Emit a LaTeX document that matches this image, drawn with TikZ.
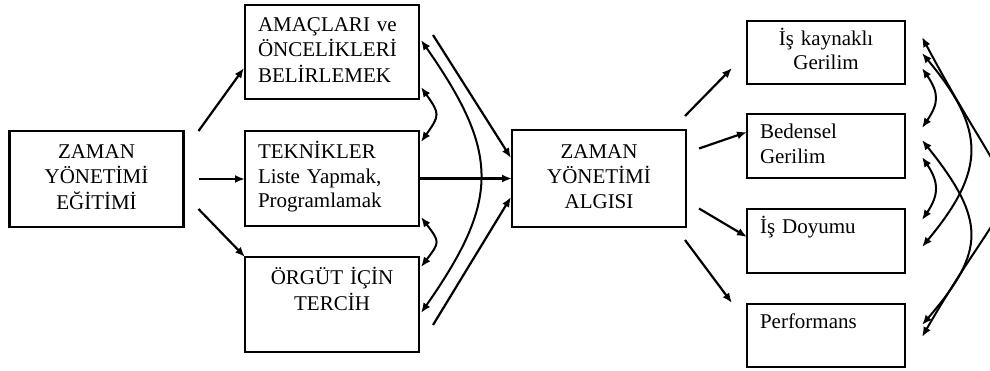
\documentclass[tikz,border=0pt]{standalone}
\usepackage{fontspec}
\setmainfont{Liberation Serif}
\usetikzlibrary{calc,arrows.meta}
\tikzset{
  box/.style={draw, line width=2.8pt, outer sep=0pt, inner xsep=13pt, inner ysep=0pt,
    font=\fontsize{21}{24.5}\selectfont},
  boxL/.style={box, minimum width=174pt, text width=148pt},
  boxR/.style={box, minimum width=158pt, text width=132pt},
  arr/.style={line width=2.2pt, -{Latex[length=10pt,width=8pt]}},
  dbl/.style={line width=2pt, {Latex[length=10pt,width=8pt]}-{Latex[length=10pt,width=8pt]}}
}
\begin{document}
\begin{tikzpicture}[x=1pt,y=-1pt]
\clip (0,0) rectangle (990,370);
\fill[white] (0,0) rectangle (990,370);
% nodes
\node[boxL, minimum width=173pt, minimum height=96pt, align=center] (zy) at (96.5,179) {\strut ZAMAN\\\strut YÖNETİMİ\\\strut EĞİTİMİ};
\node[boxL, minimum height=94pt, align=left] (amac) at (332,52) {\strut AMAÇLARI ve\\\strut ÖNCELİKLERİ\\\strut BELİRLEMEK};
\node[boxL, minimum height=95pt, align=left] (tek) at (332,178.5) {\strut TEKNİKLER\\\strut Liste Yapmak,\\\strut Programlamak};
\node[boxL, minimum height=95pt, align=center] (org) at (332,304.5) {\strut ÖRGÜT İÇİN\\\strut TERCİH\\\strut};
\node[boxL, minimum height=97pt, align=center] (alg) at (599,178.5) {\strut ZAMAN\\\strut YÖNETİMİ\\\strut ALGISI};
\node[boxR, minimum height=63pt, align=center] (isk) at (826,52.5) {\strut İş kaynaklı\\\strut Gerilim};
\node[boxR, minimum height=64pt, align=left] (bed) at (826,146) {\strut Bedensel\\\strut Gerilim};
\node[boxR, minimum height=64pt, align=left] (doy) at (826,241) {\strut İş Doyumu\\\strut};
\node[boxR, minimum height=63pt, align=left] (perf) at (826,335.5) {\strut Performans\\\strut};
% left arrows
\draw[arr] ($(zy.north east)+(15,0)$) -- ($(amac.south west)+(-1,-31)$);
\draw[arr] ($(zy.east)+(15,0)$) -- (zy.east -| tek.west);
\draw[arr] ($(zy.south east)+(15,-18)$) -- (org.north west);
% middle arrows
\draw[arr] ($(amac.north east)+(14,30)$) -- ($(alg.north west)+(-1,28)$);
\draw[arr] (tek.east) -- (tek.east -| alg.west);
\draw[arr] ($(org.north east)+(14,68)$) -- ($(alg.south west)+(-1,-30)$);
\draw[dbl] ($(amac.south east)+(2,-12)$) .. controls +(19,27) and +(19,-27) .. ($(tek.north east)+(2,11)$);
\draw[dbl] ($(tek.south east)+(2,-9)$) .. controls +(19,25) and +(19,-25) .. ($(org.north east)+(2,10)$);
\draw[dbl] ($(amac.north east)+(2,35)$) .. controls +(79,113) and +(79,-113) .. ($(org.north east)+(2,56)$);
% right arrows
\draw[arr] ($(alg.north east)+(-1,-14)$) -- ($(isk.south west)+(-15,-16)$);
\draw[arr] ($(alg.east)+(13,-30)$) -- ($(bed.west)+(0,-14)$);
\draw[arr] ($(alg.east)+(13,30)$) -- ($(doy.west)+(0,-4)$);
\draw[arr] ($(alg.south east)+(-1,13)$) -- ($(perf.north west)+(-15,-1)$);
% right curves
\draw[dbl] ($(isk.south east)+(17,-16)$) .. controls +(17,25) and +(17,-25) .. ($(bed.north east)+(17,14)$);
\draw[dbl] ($(bed.south east)+(17,-21)$) .. controls +(17,25) and +(17,-25) .. ($(doy.north east)+(17,11)$);
\draw[dbl] ($(isk.north east)+(17,32)$) .. controls +(64,77) and +(64,-77) .. ($(doy.south east)+(17,-26)$);
\draw[dbl] ($(bed.north east)+(17,26)$) .. controls +(64,80) and +(64,-74) .. ($(perf.north east)+(17,21)$);
\draw[dbl] ($(isk.north east)+(17,16)$) .. controls +(108,203) and +(108,-187) .. ($(perf.south east)+(17,-30)$);
\end{tikzpicture}
\end{document}
